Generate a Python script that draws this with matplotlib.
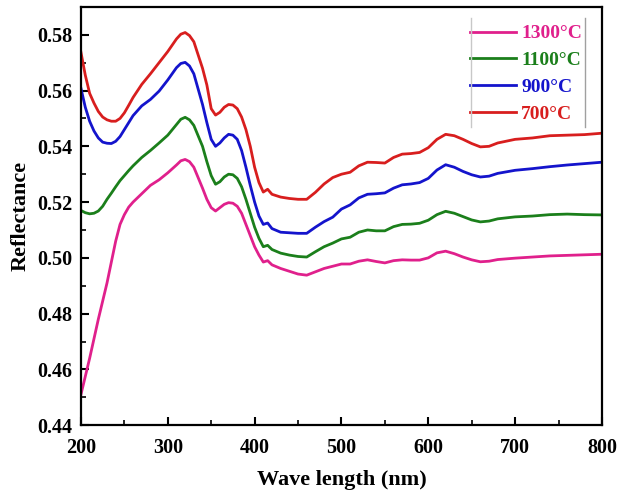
import matplotlib
matplotlib.use("Agg")
import matplotlib.pyplot as plt
from matplotlib.ticker import MultipleLocator, FormatStrFormatter
from matplotlib.lines import Line2D

# Wavelength grid (nm)
wavelength = [200, 205, 210, 215, 220, 225, 230, 235, 240, 245, 250, 255, 260, 270, 280,
              290, 300, 310, 315, 320, 325, 330, 340, 345, 350, 355, 360, 365, 370, 375,
              380, 385, 390, 395, 400, 405, 410, 415, 420, 430, 440, 450, 460, 470, 480,
              490, 500, 510, 520, 530, 540, 550, 560, 570, 580, 590, 600, 610, 620, 630,
              640, 650, 660, 670, 680, 700, 720, 740, 760, 780, 800]

# Reflectance spectra for each calcination temperature
r_700 = [0.5737, 0.5655, 0.5590, 0.5555, 0.5525, 0.5505, 0.5495, 0.5490, 0.5490, 0.5500,
         0.5520, 0.5547, 0.5575, 0.5622, 0.5660, 0.5700, 0.5740, 0.5785, 0.5802, 0.5808,
         0.5797, 0.5775, 0.5680, 0.5620, 0.5535, 0.5512, 0.5522, 0.5540, 0.5550, 0.5548,
         0.5535, 0.5505, 0.5460, 0.5400, 0.5325, 0.5270, 0.5236, 0.5246, 0.5228, 0.5218,
         0.5213, 0.5210, 0.5210, 0.5235, 0.5265, 0.5288, 0.5300, 0.5307, 0.5330, 0.5343,
         0.5342, 0.5340, 0.5360, 0.5372, 0.5374, 0.5378, 0.5395, 0.5425, 0.5443, 0.5438,
         0.5425, 0.5410, 0.5398, 0.5400, 0.5412, 0.5425, 0.5430, 0.5438, 0.5440, 0.5442,
         0.5447]

r_900 = [0.5608, 0.5540, 0.5490, 0.5455, 0.5430, 0.5415, 0.5411, 0.5410, 0.5418, 0.5435,
         0.5460, 0.5485, 0.5510, 0.5545, 0.5568, 0.5598, 0.5638, 0.5682, 0.5697, 0.5701,
         0.5688, 0.5660, 0.5550, 0.5485, 0.5425, 0.5400, 0.5412, 0.5430, 0.5443, 0.5440,
         0.5425, 0.5385, 0.5325, 0.5260, 0.5200, 0.5150, 0.5120, 0.5125, 0.5105, 0.5092,
         0.5090, 0.5088, 0.5088, 0.5110, 0.5130, 0.5146, 0.5175, 0.5190, 0.5215, 0.5228,
         0.5230, 0.5233, 0.5250, 0.5262, 0.5265, 0.5270, 0.5285, 0.5315, 0.5334, 0.5325,
         0.5310, 0.5298, 0.5290, 0.5293, 0.5303, 0.5314, 0.5320, 0.5327, 0.5333, 0.5338,
         0.5343]

r_1100 = [0.5170, 0.5162, 0.5158, 0.5160, 0.5168, 0.5185, 0.5210, 0.5232, 0.5255, 0.5277,
          0.5295, 0.5313, 0.5330, 0.5360, 0.5385, 0.5412, 0.5440, 0.5478, 0.5497, 0.5504,
          0.5495, 0.5475, 0.5400, 0.5345, 0.5295, 0.5264, 0.5273, 0.5290, 0.5300, 0.5298,
          0.5285, 0.5255, 0.5210, 0.5160, 0.5110, 0.5070, 0.5040, 0.5045, 0.5030, 0.5017,
          0.5010, 0.5005, 0.5003, 0.5022, 0.5040, 0.5053, 0.5068, 0.5074, 0.5092, 0.5100,
          0.5097, 0.5097, 0.5112, 0.5120, 0.5121, 0.5124, 0.5135, 0.5155, 0.5167, 0.5160,
          0.5148, 0.5136, 0.5129, 0.5132, 0.5140, 0.5147, 0.5150, 0.5155, 0.5157, 0.5155,
          0.5154]

r_1300 = [0.4510, 0.4575, 0.4640, 0.4710, 0.4780, 0.4845, 0.4910, 0.4985, 0.5060, 0.5120,
          0.5155, 0.5182, 0.5200, 0.5230, 0.5260, 0.5280, 0.5305, 0.5333, 0.5348, 0.5353,
          0.5345, 0.5325, 0.5250, 0.5210, 0.5180, 0.5168, 0.5180, 0.5192, 0.5198, 0.5196,
          0.5185, 0.5160, 0.5120, 0.5080, 0.5040, 0.5010, 0.4985, 0.4990, 0.4975, 0.4962,
          0.4952, 0.4942, 0.4938, 0.4950, 0.4962, 0.4970, 0.4978, 0.4978, 0.4988, 0.4993,
          0.4987, 0.4982, 0.4990, 0.4993, 0.4992, 0.4992, 0.5000, 0.5018, 0.5024, 0.5015,
          0.5003, 0.4993, 0.4986, 0.4988, 0.4994, 0.4999, 0.5003, 0.5007, 0.5009, 0.5011,
          0.5013]

labels = ["1300°C", "1100°C", "900°C", "700°C"]
colors = ["#e0208c", "#1b7f1b", "#1414cc", "#d81e1e"]
series = [r_1300, r_1100, r_900, r_700]

plt.rcParams["font.family"] = ["Liberation Serif", "DejaVu Serif"]
plt.rcParams["font.weight"] = "bold"

fig = plt.figure(figsize=(6.18, 4.91), dpi=100)
ax = fig.add_axes([0.131, 0.134, 0.843, 0.852])

for vals, lab, col in zip(series, labels, colors):
    ax.plot(wavelength, vals, color=col, lw=2.0, label=lab, solid_joinstyle="round")

ax.set_xlim(200, 800)
ax.set_ylim(0.44, 0.59)
ax.xaxis.set_major_locator(MultipleLocator(100))
ax.xaxis.set_minor_locator(MultipleLocator(50))
ax.yaxis.set_major_locator(MultipleLocator(0.02))
ax.yaxis.set_minor_locator(MultipleLocator(0.01))
ax.yaxis.set_major_formatter(FormatStrFormatter("%.2f"))

ax.tick_params(which="major", direction="in", length=6, width=1.5, labelsize=14.5,
               top=False, right=False)
ax.tick_params(axis="x", which="major", pad=9)
ax.tick_params(axis="y", which="major", pad=6)
ax.tick_params(which="minor", direction="in", length=3.5, width=1.2, top=False, right=False)
for lbl in ax.get_xticklabels() + ax.get_yticklabels():
    lbl.set_fontweight("bold")
for sp in ax.spines.values():
    sp.set_linewidth(1.6)

ax.set_xlabel("Wave length (nm)", fontsize=16, fontweight="bold", labelpad=9)
ax.set_ylabel("Reflectance", fontsize=16, fontweight="bold", labelpad=5)

leg = ax.legend(loc="upper right", bbox_to_anchor=(0.962, 0.957),
                handlelength=2.4, handletextpad=0.25, labelspacing=0.47,
                borderaxespad=0.0, borderpad=0.0, frameon=False,
                prop={"weight": "bold", "size": 14})
for txt, col in zip(leg.get_texts(), colors):
    txt.set_color(col)

# Grey side rules framing the legend
fig.canvas.draw()
bb = leg.get_window_extent()
inv = fig.transFigure.inverted()
(x0, y0), (x1, y1) = inv.transform([(bb.x0 + 1, bb.y0 - 4), (bb.x1 + 3, bb.y1 + 7)])
for xpos, shade in ((x0, "#c8c8c8"), (x1, "#a0a0a0")):
    fig.add_artist(Line2D([xpos, xpos], [y0, y1], color=shade, lw=1.0,
                          transform=fig.transFigure, zorder=6))

fig.savefig("out.png", dpi=100)
